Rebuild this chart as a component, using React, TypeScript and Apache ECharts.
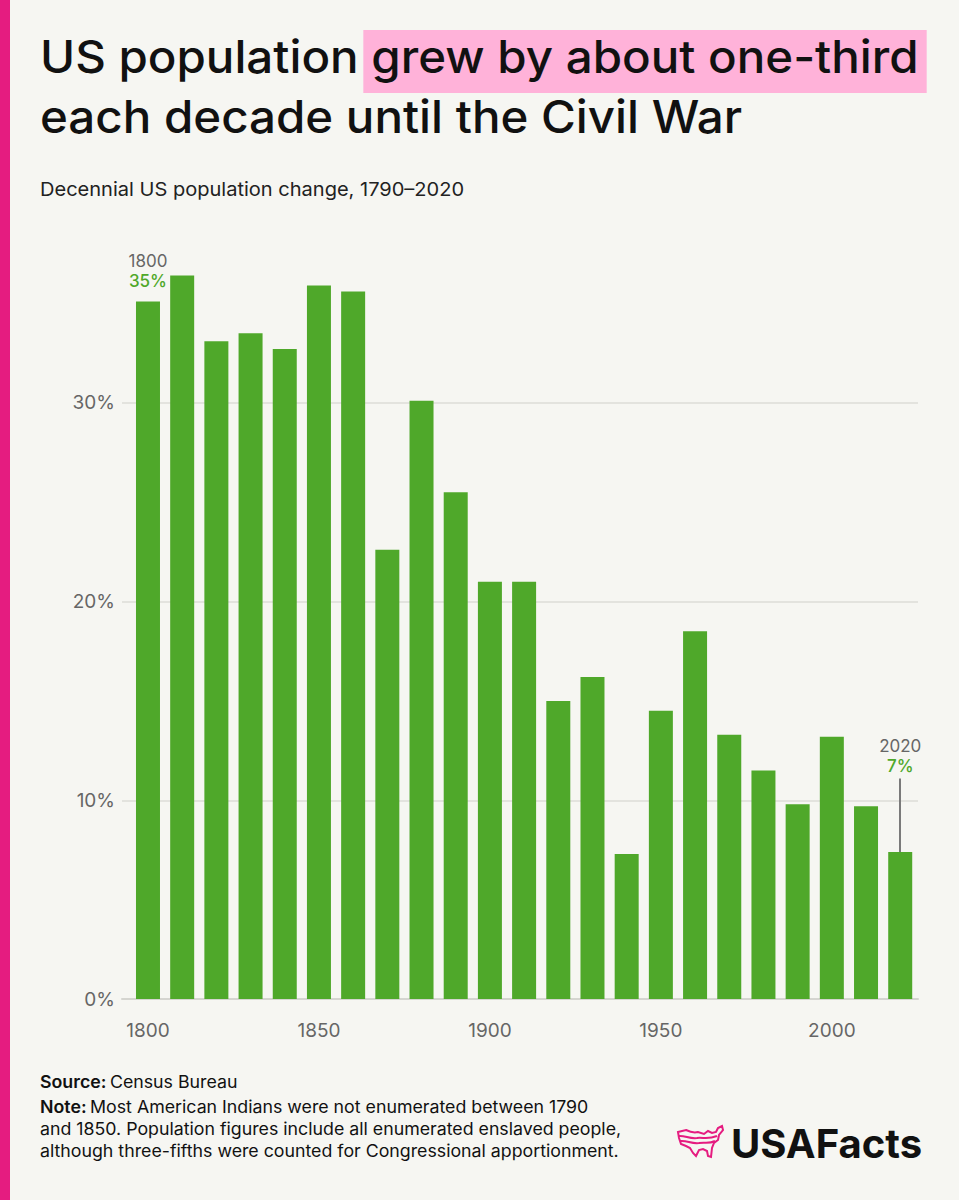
import React, { useEffect, useRef } from "react";
import * as echarts from "echarts";

// Census years and decennial percent change in US population
const YEARS = [
  1800, 1810, 1820, 1830, 1840, 1850, 1860, 1870, 1880, 1890, 1900, 1910,
  1920, 1930, 1940, 1950, 1960, 1970, 1980, 1990, 2000, 2010, 2020,
];
const GROWTH = [
  35.1, 36.4, 33.1, 33.5, 32.7, 35.9, 35.6, 22.6, 30.1, 25.5, 21.0, 21.0,
  15.0, 16.2, 7.3, 14.5, 18.5, 13.3, 11.5, 9.8, 13.2, 9.7, 7.4,
];
const X_LABEL_YEARS = [1800, 1850, 1900, 1950, 2000];
const Y_TICKS = [0, 10, 20, 30];

const TITLE_PLAIN = "US population ";
const TITLE_MARKED = "grew by about one-third";
const TITLE_LINE2 = "each decade until the Civil War";
const SUBTITLE = "Decennial US population change, 1790\u20132020";
const SOURCE = "Census Bureau";
const NOTE_LINES = [
  "Most American Indians were not enumerated between 1790",
  "and 1850. Population figures include all enumerated enslaved people,",
  "although three-fifths were counted for Congressional apportionment.",
];

const FONT = "Inter, 'Noto Sans', sans-serif";
const GREEN = "#4fa82a";
const PINK = "#e51c80";
const BG = "#f6f6f2";
// Horizontal stretch giving Inter the wider proportions of the brand typeface
const WIDEN = 1.055;

// Simplified outline of the contiguous US with two wavy stripes
const MAP_D =
  "M1,8 L9,6 C13,8 17,9 21,8 L27,10 L31,7 L35,9 L39,8 L41,4 L45,2 L46,6 L42,11 L41,16 L37,19 L35,24 L34,33 L31,32 L30,27 L26,25 L22,26 L19,32 L16,29 L13,24 L9,22 L4,20 L2,14 Z " +
  "M1,12 C8,11 12,15 20,14 C26,13 30,16 40,12 " +
  "M3,17 C10,16 14,20 22,19 C28,18 32,20 38,17";

let shapeRegistered = false;

function measure(text: string, font: string): number {
  const c = document.createElement("canvas");
  const ctx = c.getContext("2d");
  if (!ctx) return text.length * 20;
  ctx.font = font;
  return ctx.measureText(text).width;
}

export default function App() {
  const ref = useRef<HTMLDivElement>(null);

  useEffect(() => {
    if (!ref.current) return;
    if (!shapeRegistered) {
      echarts.graphic.registerShape("usmap", echarts.graphic.extendPath(MAP_D, {}));
      shapeRegistered = true;
    }
    document.body.style.margin = "0";
    const chart = echarts.init(ref.current, undefined, { renderer: "svg" });

    const titleFont = `500 45px ${FONT}`;
    const plainW = measure(TITLE_PLAIN, titleFont) * WIDEN;
    const markedW = measure(TITLE_MARKED, titleFont) * WIDEN;
    const titleX = 40;

    const lastIdx = YEARS.length - 1;
    const seriesData = YEARS.map((y, i) => {
      const item: any = { value: [y, GROWTH[i]] };
      if (i === 0 || i === lastIdx) {
        item.label = {
          show: true,
          position: "top",
          distance: i === 0 ? 10 : 76,
          formatter: `{yr|${y}}\n{pct|${Math.round(GROWTH[i])}%}`,
          rich: {
            yr: { fontFamily: FONT, fontSize: 17, color: "#666", lineHeight: 20 },
            pct: { fontFamily: FONT, fontSize: 17, fontWeight: 500, color: GREEN, lineHeight: 20 },
          },
        };
      }
      return item;
    });

    const axisFont = { color: "#666", fontFamily: FONT, fontSize: 19 };

    chart.setOption({
      animation: false,
      backgroundColor: BG,
      grid: { left: 122, right: 41, top: 204, bottom: 201 },
      xAxis: {
        type: "value",
        min: 1792.4,
        max: 2025.2,
        splitLine: { show: false },
        axisTick: { show: false },
        axisLine: { show: true, onZero: false, lineStyle: { color: "#d5d5d0", width: 2 } },
        axisLabel: {
          customValues: X_LABEL_YEARS,
          formatter: (v: number) => String(v),
          ...axisFont,
          margin: 22,
        },
      },
      yAxis: {
        type: "value",
        min: 0,
        max: 40,
        interval: 10,
        axisLine: { show: false },
        axisTick: { show: false },
        axisLabel: {
          customValues: Y_TICKS,
          formatter: (v: number) => `${v}%`,
          ...axisFont,
          margin: 7,
        },
        splitLine: {
          show: true,
          showMaxLine: false,
          lineStyle: { color: "#dcdcd7", width: 1.5 },
        },
      },
      series: [
        {
          type: "bar",
          barWidth: 24,
          data: seriesData,
          itemStyle: { color: GREEN },
          markLine: {
            silent: true,
            symbol: "none",
            label: { show: false },
            lineStyle: { color: "#7a7a7a", width: 2, type: "solid" },
            data: [
              [
                { coord: [YEARS[lastIdx], GROWTH[lastIdx]] },
                { coord: [YEARS[lastIdx], GROWTH[lastIdx] + 3.7] },
              ],
            ],
          },
        },
      ],
      graphic: [
        { type: "rect", shape: { x: 0, y: 0, width: 10, height: 1200 }, style: { fill: PINK } },
        {
          type: "rect",
          shape: { x: titleX + plainW - 8, y: 30, width: markedW + 16, height: 63 },
          style: { fill: "#ffb2d9" },
        },
        {
          type: "text",
          x: titleX,
          y: 34,
          scaleX: WIDEN,
          style: {
            text: TITLE_PLAIN + TITLE_MARKED,
            font: titleFont,
            fill: "#111",
            verticalAlign: "top",
            lineHeight: 45,
          },
        },
        {
          type: "text",
          x: titleX,
          y: 94,
          scaleX: WIDEN,
          style: { text: TITLE_LINE2, font: titleFont, fill: "#111", verticalAlign: "top", lineHeight: 45 },
        },
        {
          type: "text",
          x: 40,
          y: 189,
          scaleX: WIDEN,
          style: { text: SUBTITLE, font: `400 19px ${FONT}`, fill: "#222", verticalAlign: "middle" },
        },
        {
          type: "text",
          x: 40,
          y: 1082,
          scaleX: 1.045,
          style: {
            text: `{b|Source:} {r|${SOURCE}}`,
            verticalAlign: "middle",
            rich: {
              b: { fontFamily: FONT, fontSize: 17, fontWeight: 600, fill: "#111" },
              r: { fontFamily: FONT, fontSize: 17, fontWeight: 400, fill: "#111" },
            },
          },
        },
        {
          type: "text",
          x: 40,
          y: 1096,
          scaleX: 1.045,
          style: {
            text: NOTE_LINES.map((l, i) => (i === 0 ? `{b|Note:} {r|${l}}` : `{r|${l}}`)).join("\n"),
            verticalAlign: "top",
            rich: {
              b: { fontFamily: FONT, fontSize: 17, fontWeight: 600, fill: "#111", lineHeight: 22 },
              r: { fontFamily: FONT, fontSize: 17, fontWeight: 400, fill: "#111", lineHeight: 22 },
            },
          },
        },
        {
          type: "usmap",
          x: 677,
          y: 1124,
          shape: {},
          style: { fill: "none", stroke: PINK, lineWidth: 2 },
        },
        {
          type: "text",
          x: 731,
          y: 1143,
          style: {
            text: "USAFacts",
            font: `700 40px ${FONT}`,
            fill: "#111",
            verticalAlign: "middle",
          },
        },
      ],
    });

    return () => chart.dispose();
  }, []);

  return (
    <div
      ref={ref}
      style={{ position: "fixed", left: 0, top: 0, width: 959, height: 1200 }}
    />
  );
}
